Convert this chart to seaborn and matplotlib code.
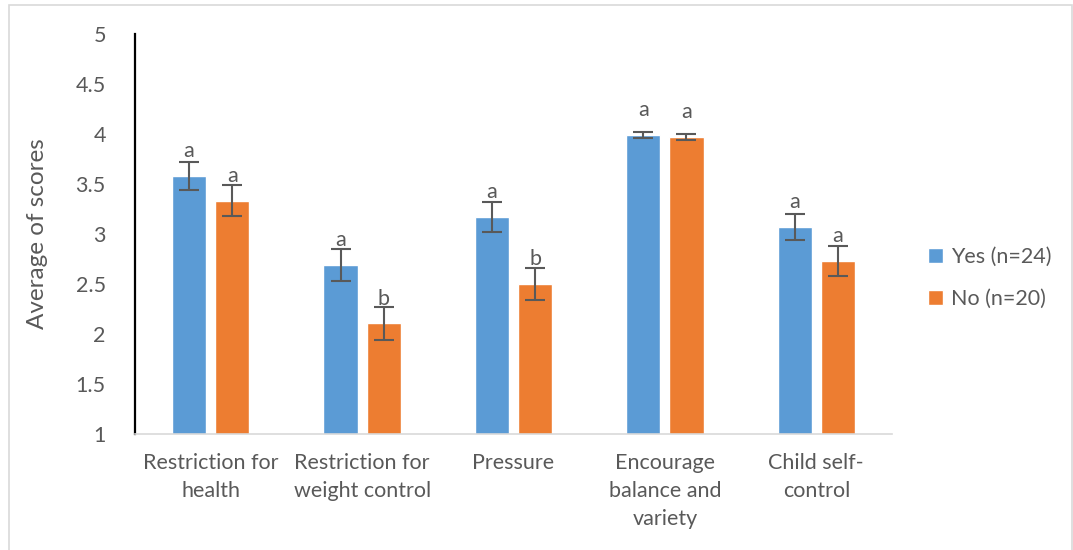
import matplotlib
matplotlib.use("Agg")
import matplotlib.pyplot as plt
from matplotlib.patches import Rectangle
import seaborn as sns
import pandas as pd

# Feeding-practice subscales and group means (+/- SE)
categories = ["Restriction for\nhealth", "Restriction for\nweight control", "Pressure",
              "Encourage\nbalance and\nvariety", "Child self-\ncontrol"]
groups = ["Yes (n=24)", "No (n=20)"]
yes_means = [3.58, 2.69, 3.17, 3.99, 3.07]
no_means = [3.33, 2.11, 2.50, 3.97, 2.73]
yes_err = [0.14, 0.16, 0.15, 0.03, 0.13]
no_err = [0.155, 0.165, 0.16, 0.03, 0.15]
yes_letters = ["a", "a", "a", "a", "a"]
no_letters = ["a", "b", "b", "a", "a"]
yticks = [1, 1.5, 2, 2.5, 3, 3.5, 4, 4.5, 5]

df = pd.DataFrame({
    "category": categories * 2,
    "group": [groups[0]] * len(categories) + [groups[1]] * len(categories),
    "score": yes_means + no_means,
    "err": yes_err + no_err,
    "letter": yes_letters + no_letters,
})

sns.set_theme(style="white")
plt.rcParams["font.family"] = ["Lato", "DejaVu Sans"]
text_color = "#595959"

fig = plt.figure(figsize=(10.73, 5.5), dpi=100)
ax = fig.add_axes([0.1258, 0.2109, 0.7055, 0.7273])

palette = {groups[0]: "#5b9bd5", groups[1]: "#ed7d31"}
sns.barplot(data=df, x="category", y="score", hue="group", hue_order=groups,
            order=categories, palette=palette, width=0.57, gap=0.21,
            errorbar=None, saturation=1, ax=ax, legend=True)

ax.set_ylim(1, 5)
ax.set_xlim(-0.5, len(categories) - 0.5)
ax.set_yticks(yticks)
ax.set_yticklabels([f"{t:g}" for t in yticks])

# Error bars, plus significance letters a fixed step above each bar
for container, gname in zip(ax.containers, groups):
    sub = df[df["group"] == gname].set_index("category").loc[categories]
    for bar, (_, row) in zip(container, sub.iterrows()):
        xc = bar.get_x() + bar.get_width() / 2
        h = bar.get_height() + bar.get_y()
        ax.errorbar(xc, h, yerr=row["err"], fmt="none", ecolor="#595959",
                    elinewidth=1.5, capsize=7, capthick=1.5, zorder=3)
        ax.text(xc, h + 0.185, row["letter"], ha="center", va="baseline",
                fontsize=15.5, color=text_color, zorder=4)

for side in ["top", "right"]:
    ax.spines[side].set_visible(False)
ax.spines["left"].set_color("black")
ax.spines["left"].set_linewidth(1.6)
ax.spines["bottom"].set_color("#d9d9d9")
ax.spines["bottom"].set_linewidth(1.2)
ax.tick_params(axis="both", length=0, labelsize=15.5, labelcolor=text_color)
ax.tick_params(axis="y", pad=21)
ax.tick_params(axis="x", pad=14)
for lbl in ax.get_xticklabels():
    lbl.set_linespacing(1.5)
ax.set_xlabel("")
ax.set_ylabel("Average of scores", fontsize=17.5, color=text_color, labelpad=20)

leg = ax.legend(loc="center left", bbox_to_anchor=(928 / 1073, 1 - 278 / 550),
                bbox_transform=fig.transFigure, frameon=False,
                fontsize=15.5, handlelength=0.7, handleheight=0.7,
                handletextpad=0.35, labelspacing=1.05, labelcolor=text_color,
                borderaxespad=0, borderpad=0)

# Chart-area border
fig.patches.append(Rectangle((9 / 1073, -0.05), 1063 / 1073, 1 - 5 / 550 + 0.05,
                             transform=fig.transFigure, fill=False,
                             edgecolor="#d9d9d9", linewidth=1.2))

fig.savefig("out.png", dpi=100)
